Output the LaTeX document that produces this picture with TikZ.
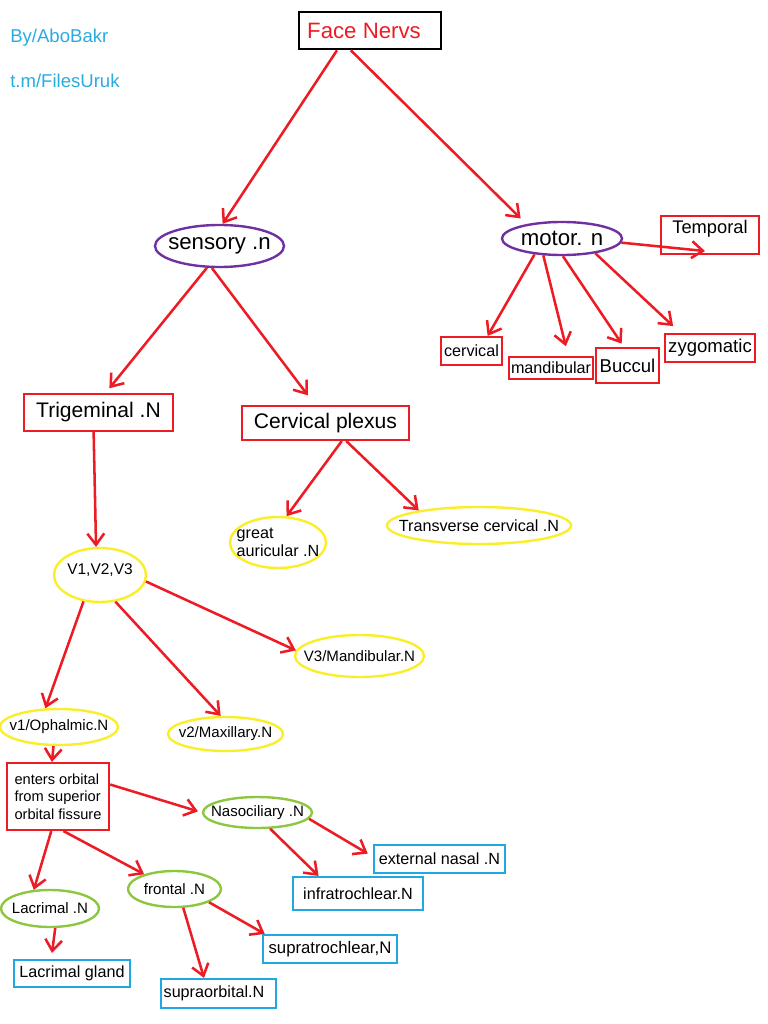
\documentclass[tikz,border=0pt]{standalone}
\usepackage{fontspec}
\setmainfont{Liberation Sans}
\usetikzlibrary{shapes.geometric, arrows.meta}
\definecolor{nervred}{RGB}{237,28,36}
\definecolor{nervpurple}{RGB}{112,48,160}
\definecolor{nervyellow}{RGB}{250,238,40}
\definecolor{nervgreen}{RGB}{141,198,63}
\definecolor{nervblue}{RGB}{30,170,225}
\definecolor{nervcyan}{RGB}{41,171,226}

\begin{document}
\begin{tikzpicture}[x=0.025cm, y=-0.025cm,
    redbox/.style={rectangle, draw=nervred, line width=1.5pt, inner sep=0pt, 
                   font=\fontsize{11.5}{13.5}\selectfont},
    bluebox/.style={rectangle, draw=nervblue, line width=1.5pt, inner sep=0pt, 
                    font=\fontsize{11.5}{13.5}\selectfont},
    oval/.style={ellipse, line width=1.7pt, inner xsep=-0.5cm, inner ysep=-0.1cm, 
                 font=\fontsize{10.7}{12.5}\selectfont},
    purpleoval/.style={oval, draw=nervpurple, font=\fontsize{15.8}{18}\selectfont},
    yellowoval/.style={oval, draw=nervyellow},
    greenoval/.style={oval, draw=nervgreen},
    credit/.style={anchor=west, inner sep=0pt, text=nervcyan, font=\fontsize{13.2}{15}\selectfont},
    arrow/.style={-{Straight Barb[length=8pt, width=12pt]}, line width=1.8pt, draw=nervred}]

    \useasboundingbox (0,0) rectangle (768,1024);

    % Nodes
    \node[draw=black, line width=1.9pt, minimum width=3.55cm, minimum height=0.925cm, inner sep=0pt, 
          text=nervred, font=\fontsize{15.8}{18}\selectfont] (facenervs) at (370,30.5) {Face Nervs\hspace*{0.3cm}};
    \node[credit] (byline) at (10,38) {By/AboBakr};
    \node[credit] (tmline) at (10,81) {t.m/FilesUruk};

    \node[purpleoval, minimum width=3.225cm, minimum height=1.05cm] (sensory) at (219.5,246) {sensory .n};
    \node[purpleoval, minimum width=3cm, minimum height=0.825cm] (motor) at (562,238.5) {motor. n};

    \node[redbox, minimum width=2.45cm, minimum height=0.95cm, text depth=12pt, 
          font=\fontsize{13}{15}\selectfont] (temporal) at (710,235) {Temporal};
    \node[redbox, minimum width=1.525cm, minimum height=0.7cm] (cervical) at (471.5,351) {cervical};
    \node[redbox, minimum width=2.1cm, minimum height=0.55cm] (mandibular) at (551,368) {mandibular};
    \node[redbox, minimum width=1.575cm, minimum height=0.875cm, 
          font=\fontsize{13.2}{15}\selectfont] (buccul) at (627.5,365.5) {Buccul};
    \node[redbox, minimum width=2.25cm, minimum height=0.7cm, 
          font=\fontsize{13.2}{15}\selectfont] (zygomatic) at (710,348) {zygomatic};

    \node[redbox, minimum width=3.725cm, minimum height=0.925cm, 
          font=\fontsize{15}{18}\selectfont] (trigeminal) at (98.5,412.5) {Trigeminal .N};
    \node[redbox, minimum width=4.175cm, minimum height=0.85cm, 
          font=\fontsize{15}{18}\selectfont] (cervplexus) at (325.5,423) {Cervical plexus};

    \node[yellowoval, minimum width=2.4cm, minimum height=1.275cm, align=left, 
          font=\fontsize{11.5}{12.8}\selectfont] (greatauric) at (278,542.5) {great\\auricular .N};
    \node[yellowoval, minimum width=4.6cm, minimum height=0.925cm, 
          font=\fontsize{11.5}{13.5}\selectfont] (transverse) at (479,525.5) {Transverse cervical .N};
    \node[yellowoval, minimum width=2.3cm, minimum height=1.35cm, text depth=9pt, 
          font=\fontsize{11}{13}\selectfont] (v123) at (100,575) {V1,V2,V3};
    \node[yellowoval, minimum width=3.225cm, minimum height=1.05cm] (v3mand) at (359.5,656) {V3/Mandibular.N};
    \node[yellowoval, minimum width=2.95cm, minimum height=0.9cm] (v1ophal) at (59,727) {v1/Ophalmic.N};
    \node[yellowoval, minimum width=2.875cm, minimum height=0.85cm] (v2maxil) at (225.5,734) {v2/Maxillary.N};

    \node[redbox, minimum width=2.55cm, minimum height=1.675cm, align=left, 
          font=\fontsize{10.4}{12.4}\selectfont] (enters) at (58,796.5) {enters orbital\\from superior\\orbital fissure};
    \node[greenoval, minimum width=2.725cm, minimum height=0.775cm] (nasocil) at (257.5,812.5) {Nasociliary .N};
    \node[greenoval, minimum width=2.45cm, minimum height=0.925cm] (lacrimal) at (50,908.5) {Lacrimal .N};
    \node[greenoval, minimum width=2.325cm, minimum height=0.9cm] (frontal) at (174.5,889) {frontal .N};

    \node[bluebox, minimum width=2.9cm, minimum height=0.675cm] (lacgland) at (72,973.5) {Lacrimal gland};
    \node[bluebox, minimum width=3.35cm, minimum height=0.7cm, 
          font=\fontsize{11.9}{14}\selectfont] (supratroch) at (330,949) {supratrochlear,N};
    \node[bluebox, minimum width=2.875cm, minimum height=0.725cm] (supraorb) at (218.5,993.5) {supraorbital.N\hspace*{0.225cm}};
    \node[bluebox, minimum width=3.275cm, minimum height=0.7cm] (extnasal) at (439.5,859) {external nasal .N};
    \node[bluebox, minimum width=3.25cm, minimum height=0.825cm] (infratroch) at (358,893.5) {infratrochlear.N};

    % Arrows
    \draw[arrow] (facenervs.211) -- (sensory.82);
    \draw[arrow, shorten >=0.2cm] (facenervs.226) -- (motor.158);
    \draw[arrow, shorten >=0.15cm] (sensory.240) -- (trigeminal.70);
    \draw[arrow, shorten >=0.3cm] (sensory.251) -- (cervplexus.120);
    \draw[arrow] (trigeminal.256) -- (v123.98);
    \draw[arrow] (cervplexus.-48) -- (greatauric.72);
    \draw[arrow] (cervplexus.-41) -- (transverse.166);
    \draw[arrow] (v123.-8) -- (v3mand.175);
    \draw[arrow] (v123.-60) -- (v2maxil.105);
    \draw[arrow] (v123.238) -- (v1ophal.126);
    \draw[arrow] (v1ophal.254) -- (enters.100);
    \draw[arrow, shorten >=0.1cm] (enters.13) -- (nasocil.west);
    \draw[arrow] (enters.259) -- (lacrimal.131);
    \draw[arrow] (enters.-81) -- (frontal.154);
    \draw[arrow, shorten >=0.15cm] (lacrimal.-75) -- (lacgland.145);
    \draw[arrow] (frontal.-21) -- (supratroch.167);
    \draw[arrow] (frontal.-65) -- (supraorb.133);
    \draw[arrow, shorten >=0.15cm] (nasocil.-7) -- (extnasal.178);
    \draw[arrow] (nasocil.-52) -- (infratroch.156);
    \draw[arrow] (motor.210) -- (cervical.43);
    \draw[arrow, shorten >=0.25cm] (motor.222) -- (mandibular.35);
    \draw[arrow, shorten >=0.1cm] (motor.-87) -- (buccul.101);
    \draw[arrow, shorten >=0.25cm] (motor.-24) -- (zygomatic.153);
    \draw[arrow] (motor.-4) -- ([xshift=-0.125cm, yshift=0.1cm]temporal.south);

\end{tikzpicture}
\end{document}
